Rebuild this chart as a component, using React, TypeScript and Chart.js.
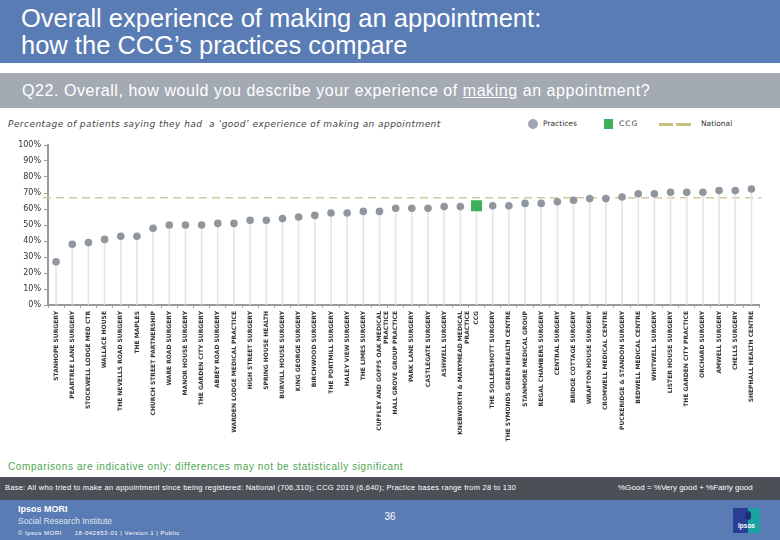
import React, { useEffect, useRef } from 'react';
import { Chart, registerables } from 'chart.js';

Chart.register(...registerables);

const categories: (string | string[])[] = [
  'STANHOPE SURGERY',
  'PEARTREE LANE SURGERY',
  'STOCKWELL LODGE MED CTR',
  'WALLACE HOUSE',
  'THE NEVELLS ROAD SURGERY',
  'THE MAPLES',
  'CHURCH STREET PARTNERSHIP',
  'WARE ROAD SURGERY',
  'MANOR HOUSE SURGERY',
  'THE GARDEN CITY SURGERY',
  'ABBEY ROAD SURGERY',
  'WARDEN LODGE MEDICAL PRACTICE',
  'HIGH STREET SURGERY',
  'SPRING HOUSE HEALTH',
  'BURVILL HOUSE SURGERY',
  'KING GEORGE SURGERY',
  'BIRCHWOOD SURGERY',
  'THE PORTMILL SURGERY',
  'HALEY VIEW SURGERY',
  'THE LIMES SURGERY',
  ['CUFFLEY AND GOFFS OAK MEDICAL', 'PRACTICE'],
  'HALL GROVE GROUP PRACTICE',
  'PARK LANE SURGERY',
  'CASTLEGATE SURGERY',
  'ASHWELL SURGERY',
  ['KNEBWORTH & MARYMEAD MEDICAL', 'PRACTICE'],
  'CCG',
  'THE SOLLERSHOTT SURGERY',
  'THE SYMONDS GREEN HEALTH CENTRE',
  'STANMORE MEDICAL GROUP',
  'REGAL CHAMBERS SURGERY',
  'CENTRAL SURGERY',
  'BRIDGE COTTAGE SURGERY',
  'WRAFTON HOUSE SURGERY',
  'CROMWELL MEDICAL CENTRE',
  'PUCKERIDGE & STANDON SURGERY',
  'BEDWELL MEDICAL CENTRE',
  'WHITWELL SURGERY',
  'LISTER HOUSE SURGERY',
  'THE GARDEN CITY PRACTICE',
  'ORCHARD SURGERY',
  'AMWELL SURGERY',
  'CHELLS SURGERY',
  'SHEPHALL HEALTH CENTRE',
];

const goodPercent: number[] = [
  27, 38, 39, 41, 43, 43, 48, 50, 50, 50, 51, 51, 53, 53, 54, 55, 56, 57.5, 57.5, 58.5,
  58.5, 60.5, 60.5, 60.5, 61.5, 61.5, 62, 62, 62, 63.5, 63.5, 64.5, 65.5, 66.5, 66.5, 67.5,
  69.5, 69.5, 70.5, 70.5, 70.5, 71.5, 71.5, 72.5,
];

const ccgLabel = 'CCG';
const nationalValue = 67;
const yTickValues: number[] = [0, 10, 20, 30, 40, 50, 60, 70, 80, 90, 100];
const yTickLabels: string[] = ['0%', '10%', '20%', '30%', '40%', '50%', '60%', '70%', '80%', '90%', '100%'];

const nationalLinePlugin = {
  id: 'nationalLine',
  beforeDatasetsDraw(chart: any) {
    const { ctx, chartArea, scales } = chart;
    const y = scales.y.getPixelForValue(nationalValue);
    ctx.save();
    ctx.strokeStyle = '#d2ca9c';
    ctx.lineWidth = 1.5;
    ctx.setLineDash([8, 5]);
    ctx.beginPath();
    ctx.moveTo(chartArea.left - 5, y);
    ctx.lineTo(chartArea.right + 2, y);
    ctx.stroke();
    ctx.restore();
  },
};

function ChartCanvas() {
  const ref = useRef<HTMLCanvasElement | null>(null);
  useEffect(() => {
    if (!ref.current) return;
    const ccgIdx = categories.findIndex((c) => c === ccgLabel);
    const practiceData = goodPercent.map((v, i) => (i === ccgIdx ? null : v));
    const ccgData = goodPercent.map((v, i) => (i === ccgIdx ? v : null));
    const chart = new Chart(ref.current, {
      type: 'bar',
      data: {
        labels: categories,
        datasets: [
          {
            type: 'line',
            label: 'CCG',
            data: ccgData,
            showLine: false,
            pointStyle: 'rect',
            pointRadius: 7.8,
            pointBackgroundColor: '#3bb15a',
            pointBorderWidth: 0,
            order: 0,
          } as any,
          {
            type: 'line',
            label: 'Practices',
            data: practiceData,
            showLine: false,
            pointStyle: 'circle',
            pointRadius: 3.8,
            pointBackgroundColor: '#8f969e',
            pointBorderWidth: 0,
            order: 1,
          } as any,
          {
            type: 'bar',
            label: 'drop',
            data: goodPercent,
            backgroundColor: '#e5e5e5',
            barThickness: 1,
            order: 3,
          } as any,
        ],
      },
      options: {
        animation: false,
        responsive: false,
        maintainAspectRatio: false,
        layout: { padding: { top: 10, right: 20.5, left: 0, bottom: 0 } },
        plugins: { legend: { display: false }, tooltip: { enabled: false } },
        scales: {
          x: {
            offset: true,
            grid: { offset: true, drawOnChartArea: false, tickLength: 3, color: '#a8a8a8' },
            border: { color: '#9a9a9a', width: 2 },
            ticks: {
              autoSkip: false,
              maxRotation: 90,
              minRotation: 90,
              padding: 3,
              color: '#333',
              font: { family: 'DejaVu Sans', size: 6, weight: 'bold' },
            },
            afterFit: (s: any) => {
              s.height = 150;
            },
          },
          y: {
            min: 0,
            max: 100,
            afterBuildTicks: (s: any) => {
              s.ticks = yTickValues.map((v) => ({ value: v }));
            },
            ticks: {
              padding: 3,
              color: '#333',
              font: { family: 'DejaVu Sans', size: 8 },
              callback: (v: any) => yTickLabels[yTickValues.indexOf(Number(v))] ?? '',
            },
            grid: { drawOnChartArea: false, tickLength: 4, color: '#9a9a9a' },
            border: { color: '#9a9a9a', width: 2 },
            afterFit: (s: any) => {
              s.width = 48;
            },
          },
        },
      },
      plugins: [nationalLinePlugin],
    } as any);
    return () => chart.destroy();
  }, []);
  return <canvas ref={ref} width={780} height={320} style={{ position: 'absolute', left: 0, top: 135, width: 780, height: 320 }} />;
}

export default function App() {
  const sans = '"Liberation Sans", Arial, sans-serif';
  return (
    <div style={{ position: 'absolute', left: 0, top: 0, width: 780, height: 540, background: '#fff', overflow: 'hidden', fontFamily: sans }}>
      {/* Title band */}
      <div style={{ position: 'absolute', left: 0, top: 0, width: 780, height: 63, background: '#5a7cb5' }}>
        <div style={{ position: 'absolute', left: 21, top: 5, color: '#fff', fontSize: 25.5, lineHeight: '27px', whiteSpace: 'nowrap' }}>
          Overall experience of making an appointment:
          <br />
          how the CCG’s practices compare
        </div>
      </div>
      {/* Question band */}
      <div style={{ position: 'absolute', left: 0, top: 73, width: 780, height: 35, background: '#a3aab3' }}>
        <div style={{ position: 'absolute', left: 22, top: 9, color: '#fff', fontSize: 16, letterSpacing: 0.55, lineHeight: '18px', whiteSpace: 'nowrap' }}>
          Q22. Overall, how would you describe your experience of <span style={{ textDecoration: 'underline' }}>making</span> an appointment?
        </div>
      </div>
      {/* Subtitle */}
      <div style={{ position: 'absolute', left: 8, top: 118, color: '#444', fontSize: 9, letterSpacing: 0.45, fontStyle: 'italic', fontFamily: '"DejaVu Sans", sans-serif', whiteSpace: 'pre', lineHeight: '12px' }}>
        {'Percentage of patients saying they had  a ‘good’ experience of making an appointment'}
      </div>
      {/* Legend */}
      <div style={{ position: 'absolute', left: 528, top: 119, width: 10, height: 10, borderRadius: 5, background: '#a0a7b0' }} />
      <div style={{ position: 'absolute', left: 543, top: 118, fontSize: 7.5, color: '#333', fontFamily: '"DejaVu Sans", sans-serif', lineHeight: '12px' }}>Practices</div>
      <div style={{ position: 'absolute', left: 604, top: 119, width: 9, height: 10, background: '#3bb15a' }} />
      <div style={{ position: 'absolute', left: 619, top: 118, fontSize: 7.5, color: '#333', fontFamily: '"DejaVu Sans", sans-serif', lineHeight: '12px', letterSpacing: 1 }}>CCG</div>
      <div style={{ position: 'absolute', left: 659, top: 123, width: 14, height: 3, background: '#c9bf7e' }} />
      <div style={{ position: 'absolute', left: 676, top: 123, width: 15, height: 3, background: '#c9bf7e' }} />
      <div style={{ position: 'absolute', left: 701, top: 118, fontSize: 7.5, color: '#333', fontFamily: '"DejaVu Sans", sans-serif', lineHeight: '12px' }}>National</div>

      <ChartCanvas />

      {/* Note */}
      <div style={{ position: 'absolute', left: 8, top: 461, color: '#4ea64e', fontSize: 10, letterSpacing: 0.6, whiteSpace: 'nowrap', lineHeight: '12px' }}>
        Comparisons are indicative only: differences may not be statistically significant
      </div>
      {/* Base band */}
      <div style={{ position: 'absolute', left: 0, top: 477, width: 780, height: 23, background: '#4b5056' }}>
        <div style={{ position: 'absolute', left: 5, top: 6, color: '#fff', fontSize: 7.5, letterSpacing: 0.25, whiteSpace: 'nowrap', lineHeight: '10px' }}>
          Base: All who tried to make an appointment since being registered: National (706,310); CCG 2019 (6,640); Practice bases range from 28 to 130
        </div>
        <div style={{ position: 'absolute', left: 618, top: 6, color: '#fff', fontSize: 8, whiteSpace: 'nowrap', lineHeight: '10px' }}>
          %Good = %Very good + %Fairly good
        </div>
      </div>
      {/* Footer */}
      <div style={{ position: 'absolute', left: 0, top: 500, width: 780, height: 40, background: '#5a7cb5' }}>
        <div style={{ position: 'absolute', left: 18, top: 4, color: '#fff', fontSize: 9, fontWeight: 'bold', lineHeight: '11px' }}>Ipsos MORI</div>
        <div style={{ position: 'absolute', left: 18, top: 16, color: '#dde4f0', fontSize: 8.5, lineHeight: '11px' }}>Social Research Institute</div>
        <div style={{ position: 'absolute', left: 18, top: 29, color: '#fff', fontSize: 6, letterSpacing: 0.5, lineHeight: '8px', whiteSpace: 'pre' }}>{'© Ipsos MORI      18-042653-01 | Version 1 | Public'}</div>
        <div style={{ position: 'absolute', left: 380, top: 11, width: 20, textAlign: 'center', color: '#fff', fontSize: 10, lineHeight: '12px' }}>36</div>
        <div style={{ position: 'absolute', left: 733, top: 8, width: 27, height: 25, background: 'linear-gradient(90deg, #2b3f96 0%, #2b3f96 55%, #1ba3a3 55%, #1ba3a3 100%)' }}>
          <div style={{ position: 'absolute', left: 12, top: 3, width: 6, height: 9, borderRadius: 3, background: '#1d2f7a' }} />
          <div style={{ position: 'absolute', left: 0, top: 14, width: 27, textAlign: 'center', color: '#fff', fontSize: 6.5, fontWeight: 'bold', lineHeight: '8px' }}>Ipsos</div>
        </div>
      </div>
    </div>
  );
}
